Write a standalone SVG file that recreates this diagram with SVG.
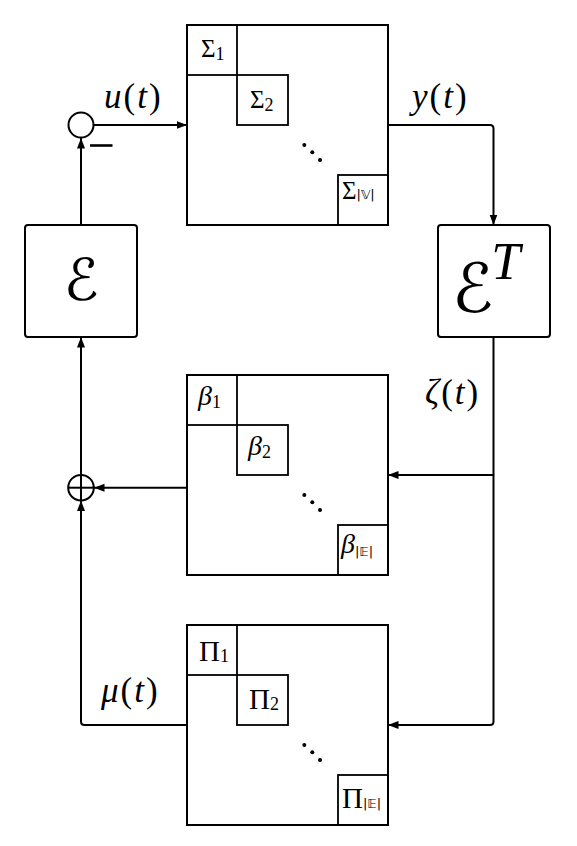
<svg xmlns="http://www.w3.org/2000/svg" width="577" height="846" viewBox="0 0 577 846">
<style>
.box{fill:#fff;stroke:#000;stroke-width:2}
.blk{fill:none;stroke:#000;stroke-width:1.8}
.ln{fill:none;stroke:#000;stroke-width:2}
.math{font-family:"Liberation Serif","Times New Roman",serif;font-style:italic;fill:#000}
.up{font-family:"Liberation Serif","Times New Roman",serif;font-style:normal;fill:#000}
.sub{font-family:"Liberation Serif","Times New Roman",serif;font-style:normal;font-size:18px}
.ssub{font-family:"DejaVu Sans","Liberation Sans",sans-serif;font-style:normal;font-size:13px}
.cal{font-family:"DejaVu Serif","DejaVu Sans",serif;fill:#000}
.lbl{font-size:35px;letter-spacing:2px}
</style>
<defs>
<marker id="ah" markerWidth="11" markerHeight="9" refX="10.5" refY="4.5" orient="auto" markerUnits="userSpaceOnUse">
<path d="M0,0.5 L10.5,4.5 L0,8.5 z" fill="#000"/>
</marker>
</defs>

<g id="sum-top">
<circle cx="81" cy="125" r="12.5" class="ln"/>
<line x1="90" y1="145.5" x2="112.5" y2="145.5" stroke="#000" stroke-width="2.6"/>
</g>

<g id="sigma">
<rect x="187" y="25" width="201" height="200" class="box"/>
<rect x="187" y="25" width="50" height="50" class="blk"/>
<rect x="237" y="75" width="51" height="50" class="blk"/>
<rect x="338" y="175" width="50" height="50" class="blk"/>
<text x="201" y="57" class="up" font-size="25">Σ<tspan class="sub" dy="3">1</tspan></text>
<text x="250" y="108" class="up" font-size="25">Σ<tspan class="sub" dy="3">2</tspan></text>
<text x="342" y="199" class="up" font-size="25">Σ<tspan class="ssub">|𝕍|</tspan></text>
<circle cx="304.3" cy="145" r="2" fill="#000"/>
<circle cx="312.3" cy="152.3" r="2" fill="#000"/>
<circle cx="320" cy="160" r="2" fill="#000"/>
</g>

<g id="E">
<rect x="25" y="225" width="112" height="112" rx="3" class="box"/>
<text x="81" y="300" class="cal" font-size="58" text-anchor="middle">ℰ</text>
</g>

<g id="ET">
<rect x="438" y="225" width="112" height="112" rx="3" class="box"/>
<text x="452" y="312" class="cal" font-size="68">ℰ<tspan class="math" font-size="52" dx="-2" dy="-33">T</tspan></text>
</g>

<g id="beta">
<rect x="187" y="375" width="201" height="200" class="box"/>
<rect x="187" y="375" width="50" height="50" class="blk"/>
<rect x="237" y="425" width="51" height="50" class="blk"/>
<rect x="338" y="525" width="50" height="50" class="blk"/>
<text x="198" y="405" class="math" font-size="28">β<tspan class="sub" dy="3">1</tspan></text>
<text x="248" y="455" class="math" font-size="28">β<tspan class="sub" dy="3">2</tspan></text>
<text x="341" y="553" class="math" font-size="28">β<tspan class="ssub" dy="3">|𝔼|</tspan></text>
<circle cx="304.3" cy="495" r="2" fill="#000"/>
<circle cx="312.3" cy="502.3" r="2" fill="#000"/>
<circle cx="320" cy="510" r="2" fill="#000"/>
</g>

<g id="sum-bottom">
<circle cx="81" cy="487.7" r="12.8" class="ln"/>
<line x1="68.2" y1="487.7" x2="93.8" y2="487.7" class="ln"/>
<line x1="81" y1="474.9" x2="81" y2="500.5" class="ln"/>
</g>

<g id="pi">
<rect x="187" y="625" width="201" height="200" class="box"/>
<rect x="187" y="625" width="50" height="50" class="blk"/>
<rect x="237" y="675" width="51" height="50" class="blk"/>
<rect x="338" y="775" width="50" height="50" class="blk"/>
<text x="199" y="661" class="up" font-size="29">Π<tspan class="sub" dy="1">1</tspan></text>
<text x="249" y="709" class="up" font-size="29">Π<tspan class="sub" dy="1">2</tspan></text>
<text x="342" y="808" class="up" font-size="29">Π<tspan class="ssub">|𝔼|</tspan></text>
<circle cx="304.3" cy="745" r="2" fill="#000"/>
<circle cx="312.3" cy="752.3" r="2" fill="#000"/>
<circle cx="320" cy="760" r="2" fill="#000"/>
</g>

<g id="connectors">
<path d="M93.5,125 H187" class="ln" marker-end="url(#ah)"/>
<path d="M81,225 V138" class="ln" marker-end="url(#ah)"/>
<path d="M388,125 H490 Q493.5,125 493.5,128.5 V225" class="ln" marker-end="url(#ah)"/>
<path d="M493.5,337 V721.5 Q493.5,725 490,725 H388" class="ln" marker-end="url(#ah)"/>
<path d="M493.5,475 H388" class="ln" marker-end="url(#ah)"/>
<path d="M187,487.7 H94" class="ln" marker-end="url(#ah)"/>
<path d="M81,474.9 V337" class="ln" marker-end="url(#ah)"/>
<path d="M187,725 H84.5 Q81,725 81,721.5 V500.5" class="ln" marker-end="url(#ah)"/>
</g>

<g id="labels">
<text x="104" y="108" class="math lbl">u<tspan class="up">(</tspan>t<tspan class="up">)</tspan></text>
<text x="412" y="108" class="math lbl">y<tspan class="up">(</tspan>t<tspan class="up">)</tspan></text>
<text x="425" y="404" class="math lbl">ζ<tspan class="up">(</tspan>t<tspan class="up">)</tspan></text>
<text x="101" y="702" class="math lbl">μ<tspan class="up">(</tspan>t<tspan class="up">)</tspan></text>
</g>
</svg>
